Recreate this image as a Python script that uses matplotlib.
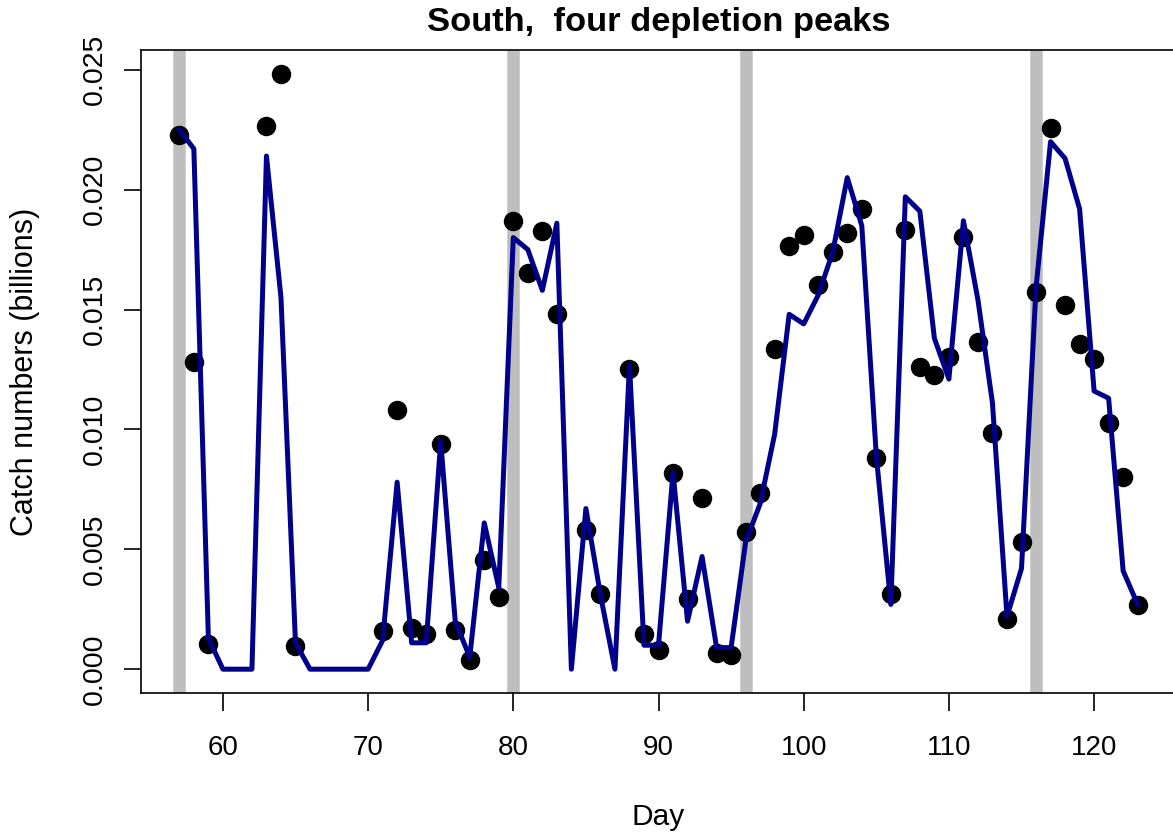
import matplotlib
matplotlib.use("Agg")
import matplotlib.pyplot as plt
import numpy as np

plt.rcParams['font.family'] = ['Liberation Sans', 'DejaVu Sans']

# Observed catch (points)
obs_day = [57, 58, 59, 63, 64, 65, 71, 72, 73, 74, 75, 76, 77, 78, 79, 80, 81, 82, 83,
           85, 86, 88, 89, 90, 91, 92, 93, 94, 95, 96, 97, 98, 99, 100, 101, 102, 103,
           104, 105, 106, 107, 108, 109, 110, 111, 112, 113, 114, 115, 116, 117, 118,
           119, 120, 121, 122, 123]
obs_catch = [0.02226, 0.01282, 0.00106, 0.02267, 0.02483, 0.00098, 0.00160, 0.01083,
             0.00172, 0.00148, 0.00941, 0.00164, 0.00039, 0.00455, 0.00301, 0.01868,
             0.01652, 0.01827, 0.01480, 0.00580, 0.00314, 0.01253, 0.00148, 0.00081,
             0.00817, 0.00293, 0.00713, 0.00069, 0.00060, 0.00571, 0.00734, 0.01336,
             0.01764, 0.01810, 0.01602, 0.01740, 0.01819, 0.01918, 0.00879, 0.00314,
             0.01831, 0.01261, 0.01228, 0.01303, 0.01802, 0.01365, 0.00987, 0.00210,
             0.00530, 0.01573, 0.02259, 0.01519, 0.01357, 0.01295, 0.01025, 0.00800,
             0.00268]

# Predicted catch (line)
pred_day = list(range(57, 124))
pred_catch = [0.0225, 0.0217, 0.0013, 0.0, 0.0, 0.0, 0.0214, 0.0155, 0.0011,
              0.0, 0.0, 0.0, 0.0, 0.0, 0.0012, 0.0078, 0.0011, 0.0011, 0.0095,
              0.0020, 0.0005, 0.0061, 0.0034, 0.0180, 0.0175, 0.0158, 0.0186, 0.0,
              0.0067, 0.0031, 0.0, 0.0127, 0.0010, 0.0010, 0.0082, 0.0020, 0.0047,
              0.0009, 0.0009, 0.0053, 0.0069, 0.0098, 0.0148, 0.0144, 0.0156, 0.0174,
              0.0205, 0.0185, 0.0089, 0.0027, 0.0197, 0.0191, 0.0138, 0.0121, 0.0187,
              0.0154, 0.0111, 0.0022, 0.0042, 0.0159, 0.0220, 0.0213, 0.0192, 0.0116,
              0.0113, 0.0041, 0.0027]

# Depletion peak days
peak_days = [57, 80, 96, 116]

xticks = [60, 70, 80, 90, 100, 110, 120]
yticks = [0.000, 0.005, 0.010, 0.015, 0.020, 0.025]

W, H = 1173, 839
fig = plt.figure(figsize=(W / 100, H / 100), dpi=100)
left, right, top, bottom = 141, 1176, 50, 693
ax = fig.add_axes([left / W, (H - bottom) / H, (right - left) / W, (bottom - top) / H])

for d in peak_days:
    ax.axvline(d, color='#BEBEBE', lw=9, zorder=1, solid_capstyle='butt')
ax.plot(obs_day, obs_catch, 'o', color='black', ms=13, zorder=2)
ax.plot(pred_day, pred_catch, '-', color='#00008B', lw=3.6, zorder=3)

xr = max(pred_day) - min(pred_day)
ax.set_xlim(min(pred_day) - 0.04 * xr, max(pred_day) + 0.04 * xr)
ymax = max(obs_catch)
ax.set_ylim(-0.04 * ymax, ymax * 1.04)

ax.set_xticks(xticks)
ax.set_xticklabels([str(t) for t in xticks])
ax.set_yticks(yticks)
ax.set_yticklabels(['%.3f' % t for t in yticks])

for s in ax.spines.values():
    s.set_linewidth(1.2)
ax.tick_params(axis='x', length=13, width=1.2, labelsize=20, pad=17)
ax.tick_params(axis='y', length=12, width=1.2, labelsize=20.5, pad=12, labelrotation=90)
for lab in ax.get_yticklabels():
    lab.set_va('center')

ax.set_xlabel('Day', fontsize=21.5)
ax.xaxis.set_label_coords((658 - left) / (right - left), (bottom - 817) / (bottom - top))
ax.xaxis.label.set_va('center')
ax.set_ylabel('Catch numbers (billions)', fontsize=22)
ax.yaxis.set_label_coords((25 - left) / (right - left), 0.5)
ax.yaxis.label.set_va('center')

ax.set_title('South,  four depletion peaks', fontsize=24.8, fontweight='bold',
             y=(bottom - 22) / (bottom - top), va='center', pad=0)

fig.savefig('out.png', dpi=100)
